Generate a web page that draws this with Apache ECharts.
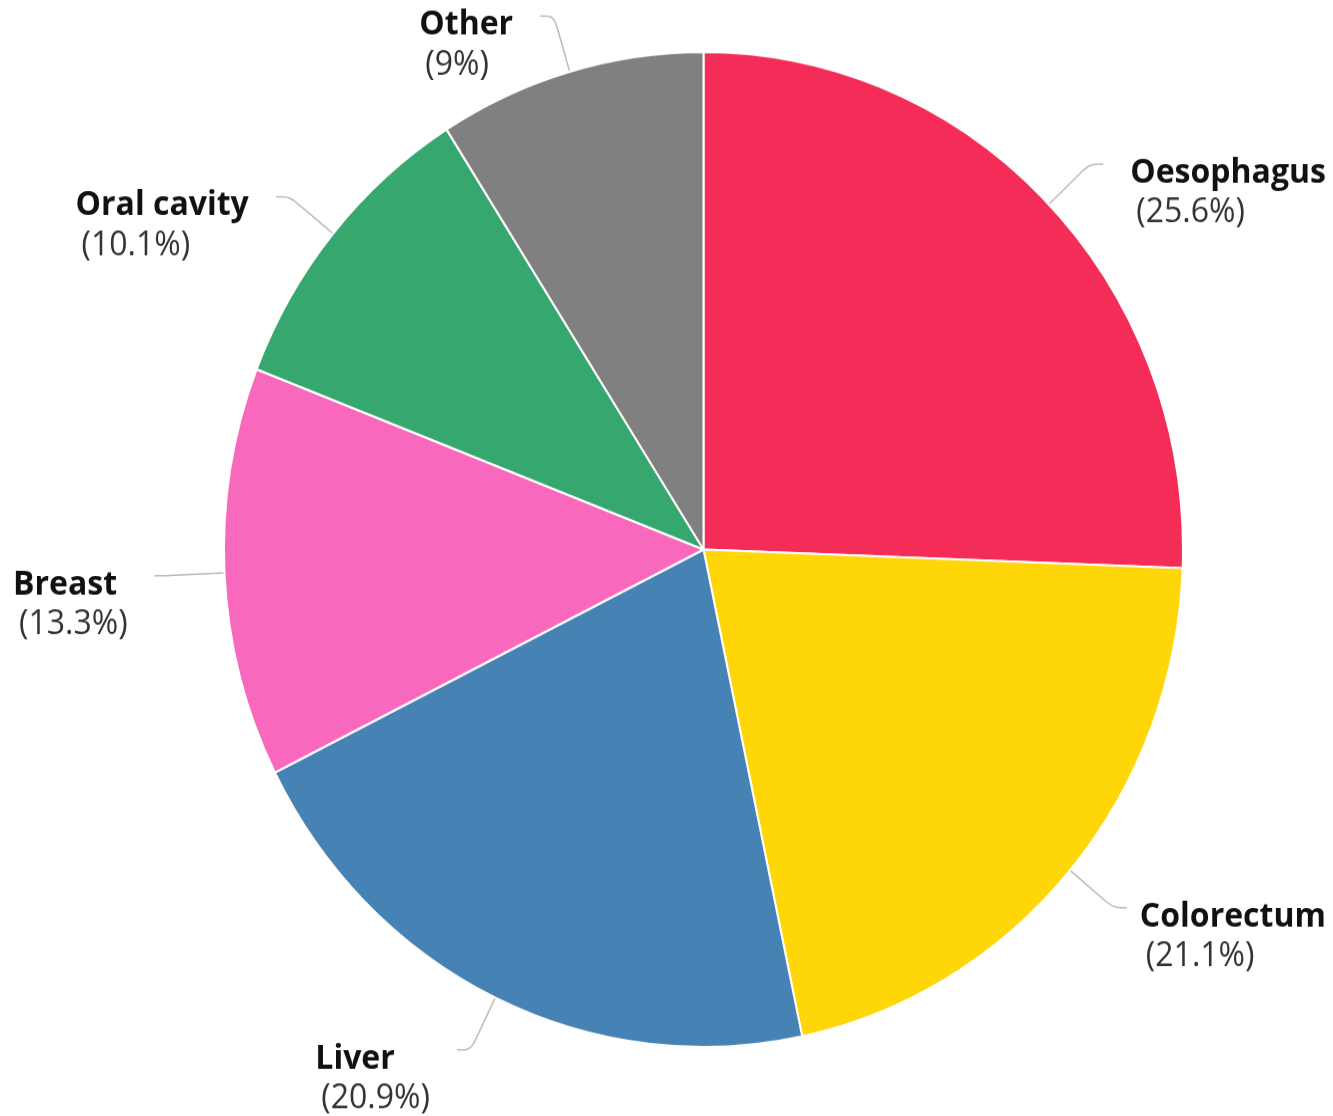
<!DOCTYPE html>
<html>
<head>
<meta charset="utf-8">
<script src="https://cdn.jsdelivr.net/npm/echarts@6/dist/echarts.min.js"></script>
<style>
html,body{margin:0;padding:0;background:#fff;overflow:hidden;}
#chart{width:1333px;height:1116px;transform-origin:0 549.5px;transform:scaleY(1.0375);}
</style>
</head>
<body>
<div id="chart"></div>
<script>
const categories = ['Oesophagus', 'Colorectum', 'Liver', 'Breast', 'Oral cavity', 'Other'];
const shares = [25.6, 21.1, 20.9, 13.3, 10.1, 9];
const colors = ['#F42C58', '#FFD608', '#4782B4', '#F868BC', '#36A76E', '#808080'];
const labelGaps = [27, 13, 27, 27, 27, 27];

const chart = echarts.init(document.getElementById('chart'), null, {renderer: 'canvas'});
chart.setOption({
  animation: false,
  series: [{
    type: 'pie',
    center: [703.5, 549.5],
    radius: 479.5,
    startAngle: 90,
    clockwise: true,
    avoidLabelOverlap: false,
    data: categories.map((c, i) => ({
      name: c, value: shares[i],
      itemStyle: {color: colors[i]},
      label: {distanceToLabelLine: labelGaps[i]}
    })),
    itemStyle: {borderColor: '#fff', borderWidth: 2},
    label: {
      show: true,
      position: 'outside',
      distanceToLabelLine: 27,
      padding: [56, 0, 0, 0],
      fontFamily: 'Open Sans',
      formatter: p => '{n|' + p.name + '}\n{p|(' + p.value + '%)}',
      rich: {
        n: {fontFamily: 'Open Sans', fontWeight: 'bold', fontSize: 32, lineHeight: 38.5, color: '#111', align: 'left'},
        p: {fontFamily: 'Open Sans', fontSize: 32, lineHeight: 38.5, color: '#333', align: 'left', padding: [0, 0, 0, 6]}
      }
    },
    labelLine: {
      show: true,
      length: 56,
      length2: 14,
      smooth: 0.3,
      lineStyle: {color: '#bbb', width: 1.5}
    }
  }]
});
</script>
</body>
</html>
